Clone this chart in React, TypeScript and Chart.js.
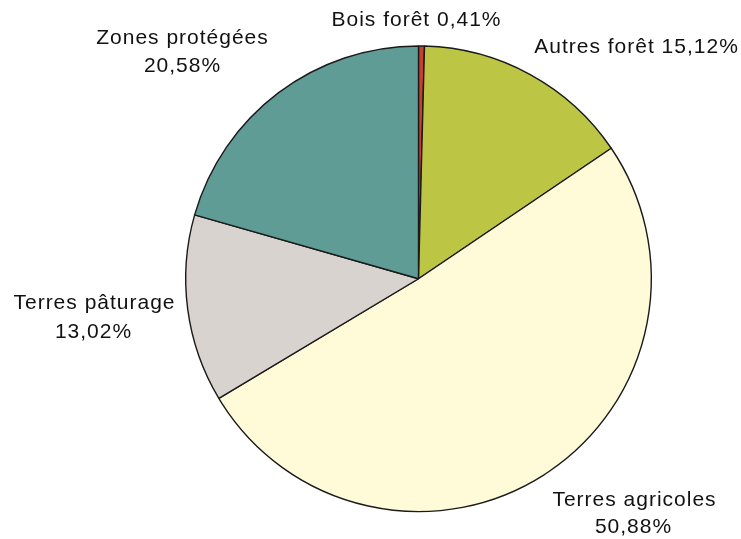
import React, { useEffect, useRef } from "react";
import { Chart, registerables } from "chart.js";

Chart.register(...registerables);

const categories = ["Bois forêt", "Autres forêt", "Terres agricoles", "Terres pâturage", "Zones protégées"];
const values = [0.41, 15.12, 50.88, 13.02, 20.58];
const colors = ["#c8412c", "#bdc545", "#fffad7", "#d9d3d0", "#5f9c96"];
const labelLines: string[][] = [
  ["Bois forêt 0,41%"],
  ["Autres forêt 15,12%"],
  ["Terres agricoles", "50,88%"],
  ["Terres pâturage", "13,02%"],
  ["Zones protégées", "20,58%"],
];
// [dx, dy] offsets of each text line from pie centre
const labelOffsets: number[][][] = [
  [[-2, -258.5]],
  [[218, -232]],
  [[216, 221.5], [215, 248.5]],
  [[-324, 24.5], [-325, 53.5]],
  [[-236, -240.5], [-236, -212.5]],
];

export default function App() {
  const ref = useRef<HTMLCanvasElement | null>(null);
  useEffect(() => {
    document.body.style.margin = "0";
    const labelPlugin = {
      id: "pieLabels",
      afterDraw(chart: any) {
        const meta = chart.getDatasetMeta(0);
        const ctx = chart.ctx;
        ctx.save();
        ctx.fillStyle = "#111";
        ctx.font = "21px 'Liberation Sans', Arial, sans-serif";
        try { (ctx as any).letterSpacing = "1px"; } catch (e) {}
        ctx.textAlign = "center";
        ctx.textBaseline = "middle";
        meta.data.forEach((arc: any, i: number) => {
          const cx = arc.x, cy = arc.y;
          labelLines[i].forEach((t, j) => {
            const [dx, dy] = labelOffsets[i][j];
            ctx.fillText(t, cx + dx, cy + dy);
          });
        });
        ctx.restore();
      },
    };
    const chart = new Chart(ref.current!, {
      type: "pie",
      data: {
        labels: categories,
        datasets: [
          {
            data: values,
            backgroundColor: colors,
            borderColor: "#1a1a1a",
            borderWidth: 1.4,
          },
        ],
      },
      options: {
        responsive: false,
        animation: false,
        layout: { padding: { left: 185, right: 89, top: 44.5, bottom: 26 } },
        plugins: {
          legend: { display: false },
          tooltip: { enabled: false },
        },
      },
      plugins: [labelPlugin],
    });
    return () => chart.destroy();
  }, []);
  return (
    <div style={{ position: "absolute", left: 0, top: 0, width: 741, height: 539, background: "#fff" }}>
      <canvas ref={ref} width={741} height={539} />
    </div>
  );
}
